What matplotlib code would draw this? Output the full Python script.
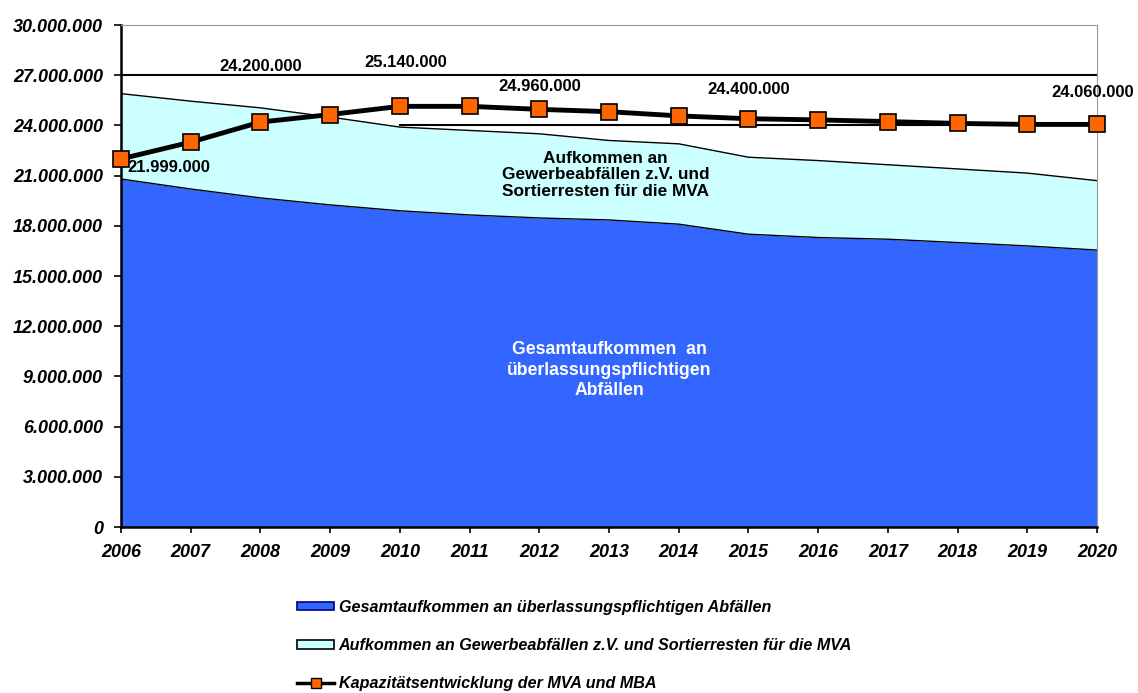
import numpy as np
import matplotlib
matplotlib.use("Agg")
import matplotlib.pyplot as plt
from matplotlib.ticker import FuncFormatter
from matplotlib.patches import Patch
from matplotlib.lines import Line2D

plt.rcParams['font.family'] = ['Liberation Sans', 'DejaVu Sans']

years = np.arange(2006, 2021)

# Gesamtaufkommen an ueberlassungspflichtigen Abfaellen
gesamt = [20.8e6, 20.2e6, 19.67e6, 19.25e6, 18.9e6, 18.65e6, 18.47e6, 18.35e6,
          18.1e6, 17.5e6, 17.3e6, 17.2e6, 17.0e6, 16.8e6, 16.55e6]
# Gewerbeabfaelle z.V. und Sortierreste (obere Kante der Summe)
summe = [25.9e6, 25.45e6, 25.05e6, 24.5e6, 23.9e6, 23.7e6, 23.5e6, 23.1e6,
         22.9e6, 22.1e6, 21.9e6, 21.65e6, 21.4e6, 21.15e6, 20.7e6]
# Kapazitaetsentwicklung der MVA und MBA
kapazitaet = [21.999e6, 23.0e6, 24.2e6, 24.65e6, 25.14e6, 25.14e6, 24.96e6, 24.82e6,
              24.57e6, 24.4e6, 24.33e6, 24.23e6, 24.12e6, 24.06e6, 24.06e6]

label_years = [2006, 2008, 2010, 2012, 2015, 2020]
label_texts = ["21.999.000", "24.200.000", "25.140.000", "24.960.000", "24.400.000", "24.060.000"]

fig = plt.figure(figsize=(11.38, 6.93), dpi=100)
ax = fig.add_axes([0.1063, 0.2395, 0.8577, 0.7244])

blue = "#3366FF"
cyan = "#CCFFFF"
orange = "#FF6600"

ax.fill_between(years, 0, gesamt, color=blue, lw=0)
ax.fill_between(years, gesamt, summe, color=cyan, lw=0)
ax.plot(years, gesamt, color="black", lw=1)
ax.plot(years, summe, color="black", lw=1)

# Hilfslinien
ax.plot([2006, 2020], [27e6, 27e6], color="black", lw=1.5)
ax.plot([2010, 2020], [24e6, 24e6], color="black", lw=1.5)

ax.plot(years, kapazitaet, color="black", lw=3.5, marker="s", markersize=11,
        markerfacecolor=orange, markeredgecolor="black", markeredgewidth=1.2,
        clip_on=False, zorder=5)

# Beschriftungen der Kapazitaet
offsets = {2006: (0.09, -0.54e6, "left"), 2008: (0, 3.3e6, "center"),
           2010: (0.08, 2.6e6, "center"), 2012: (0, 1.34e6, "center"),
           2015: (0, 1.72e6, "center"), 2020: (-0.06, 1.88e6, "center")}
for yr, txt in zip(label_years, label_texts):
    dx, dy, ha = offsets[yr]
    val = kapazitaet[yr - 2006]
    ax.text(yr + dx, val + dy, txt, ha=ha, va="center", fontsize=12,
            fontweight="bold", color="black", zorder=6, clip_on=False)

ax.text(2013.0, 9.38e6, "Gesamtaufkommen  an\nüberlassungspflichtigen\nAbfällen",
        ha="center", va="center", color="white", fontsize=12.7, fontweight="bold",
        linespacing=1.25)
ax.text(2012.95, 21.04e6, "Aufkommen an\nGewerbeabfällen z.V. und\nSortierresten für die MVA",
        ha="center", va="center", color="black", fontsize=12.4, fontweight="bold",
        linespacing=1.15)

ax.set_xlim(2006, 2020)
ax.set_ylim(0, 30e6)
ax.set_xticks(years)
ax.set_yticks(np.arange(0, 30.1e6, 3e6))
ax.yaxis.set_major_formatter(FuncFormatter(lambda v, p: "0" if v == 0 else f"{int(v):,}".replace(",", ".")))
for lab in ax.get_xticklabels() + ax.get_yticklabels():
    lab.set_fontweight("bold")
    lab.set_fontstyle("italic")
    lab.set_fontsize(13)
ax.tick_params(axis="y", direction="out", length=5, width=1.2, pad=8)
ax.tick_params(axis="x", direction="out", length=4, width=1.2, pad=8)

ax.spines["left"].set_linewidth(1.8)
ax.spines["bottom"].set_linewidth(1.8)
ax.spines["top"].set_color("#999999")
ax.spines["right"].set_color("#999999")

# Legende
handles = [
    Patch(facecolor=blue, edgecolor="#000080", lw=1.2),
    Patch(facecolor=cyan, edgecolor="black", lw=1.2),
    Line2D([], [], color="black", lw=2.5, marker="s", markersize=7,
           markerfacecolor=orange, markeredgecolor="black"),
]
labels = ["Gesamtaufkommen an überlassungspflichtigen Abfällen",
          "Aufkommen an Gewerbeabfällen z.V. und Sortierresten für die MVA",
          "Kapazitätsentwicklung der MVA und MBA"]
fig.legend(handles, labels, loc="upper left", bbox_to_anchor=(0.2557, 0.144),
           frameon=False, prop={"weight": "bold", "style": "italic", "size": 11.6},
           labelspacing=1.45, handlelength=2.25, handleheight=0.45, handletextpad=0.3,
           borderaxespad=0, bbox_transform=fig.transFigure)

fig.savefig("out.png", dpi=100)
